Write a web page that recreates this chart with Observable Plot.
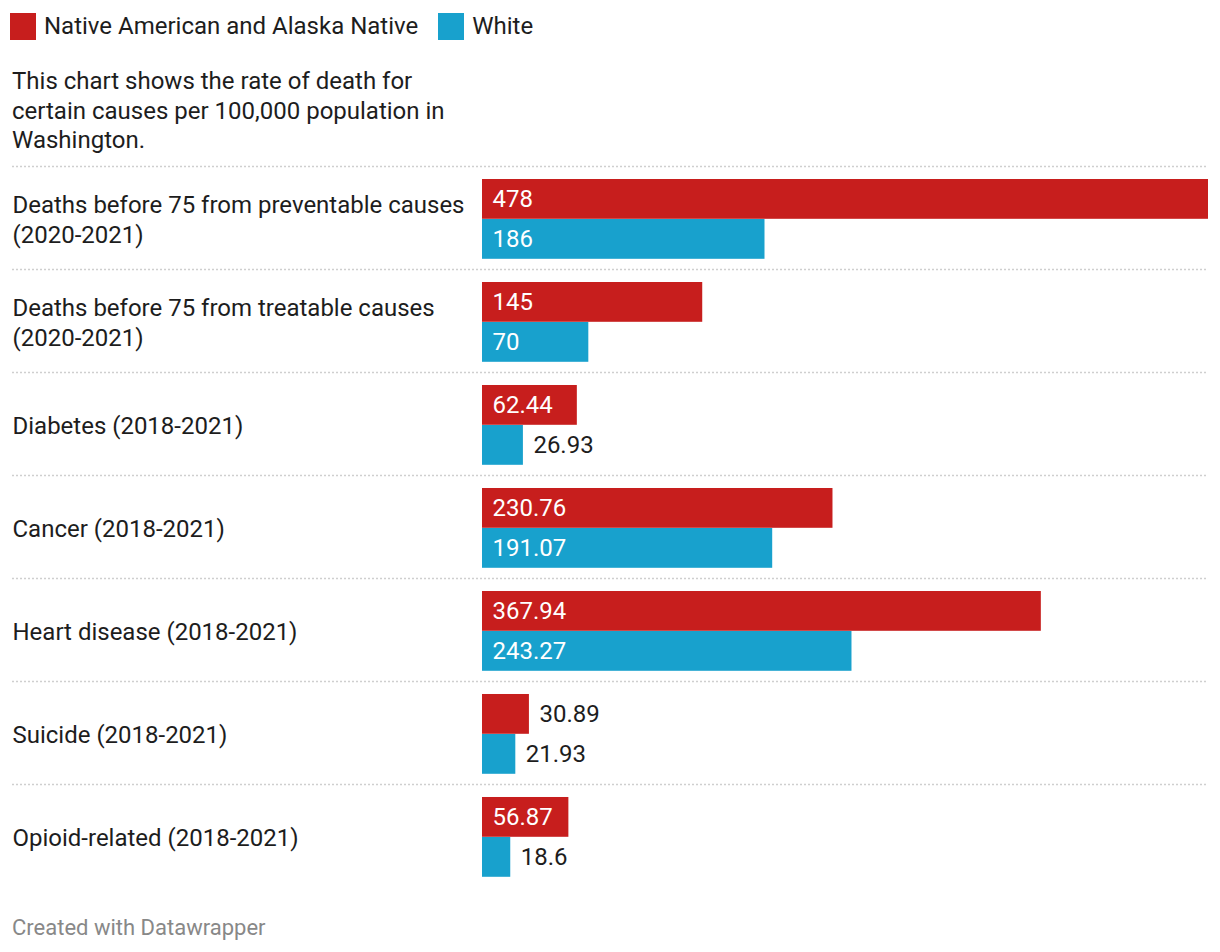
<!DOCTYPE html>
<html>
<head>
<meta charset="utf-8">
<script src="https://cdn.jsdelivr.net/npm/d3@7"></script>
<script src="https://cdn.jsdelivr.net/npm/@observablehq/plot@0.6"></script>
<style>
  html, body { margin: 0; padding: 0; background: #fff; }
  body { width: 1220px; height: 952px; position: relative; font-family: Roboto, "Noto Sans", sans-serif; color: #1d1d1d; overflow: hidden; }
  #legend { position: absolute; left: 10px; top: 13px; display: flex; align-items: center; font-size: 24px; line-height: 27px; }
  #legend .item { display: flex; align-items: center; margin-right: 20px; }
  #legend .sw { width: 26px; height: 27px; margin-right: 8px; }
  #desc { position: absolute; left: 12px; top: 67px; font-size: 24px; line-height: 29.5px; }
  #chart { position: absolute; left: 0; top: 164px; }
  #footer { position: absolute; left: 12px; top: 915px; font-size: 22px; color: #888; }
</style>
</head>
<body>
<div id="legend"></div>
<div id="desc">This chart shows the rate of death for<br>certain causes per 100,000 population in<br>Washington.</div>
<div id="chart"></div>
<div id="footer">Created with Datawrapper</div>
<script>
const seriesNames = ["Native American and Alaska Native", "White"];
const seriesColors = ["#c71e1d", "#18a1cd"];
const categories = [
  "Deaths before 75 from preventable causes (2020-2021)",
  "Deaths before 75 from treatable causes (2020-2021)",
  "Diabetes (2018-2021)",
  "Cancer (2018-2021)",
  "Heart disease (2018-2021)",
  "Suicide (2018-2021)",
  "Opioid-related (2018-2021)"
];
const nativeValues = [478, 145, 62.44, 230.76, 367.94, 30.89, 56.87];
const whiteValues = [186, 70, 26.93, 191.07, 243.27, 21.93, 18.6];

// legend
const legend = document.getElementById("legend");
seriesNames.forEach((n, i) => {
  const it = document.createElement("div");
  it.className = "item";
  it.innerHTML = `<span class="sw" style="background:${seriesColors[i]}"></span><span>${n}</span>`;
  legend.appendChild(it);
});

const nativeRows = categories.map((c, i) => ({category: c, value: nativeValues[i]}));
const whiteRows = categories.map((c, i) => ({category: c, value: whiteValues[i]}));

const rowH = 103.2;
const barH = 40;
const topGap = 13;
const xMax = 478;
const x0 = 482, x1 = 1208;
const pxPer = (x1 - x0) / xMax;
const fits = d => d.value * pxPer > String(d.value).length * 13.5 + 16;
const wrap = s => s.length > 30 ? s.replace(" (", "\n(") : s;

const dyNative = topGap + barH / 2 - rowH / 2;
const dyWhite = topGap + barH + barH / 2 - rowH / 2;

const chart = Plot.plot({
  width: 1220,
  height: 1 + categories.length * rowH + 1,
  marginLeft: 12,
  marginRight: 12,
  marginTop: 1,
  marginBottom: 1,
  style: {fontFamily: "Roboto, 'Noto Sans', sans-serif", fontSize: "24px", color: "#1d1d1d", background: "transparent"},
  x: {domain: [0, xMax], range: [x0, x1], axis: null},
  y: {domain: categories, padding: 0, axis: null},
  marks: [
    Plot.ruleY(categories, {y: d => d, dy: -rowH / 2, stroke: "#cfcfcf", strokeWidth: 1.5, strokeDasharray: "2,2"}),
    Plot.barX(nativeRows, {x: "value", y: "category", fill: seriesColors[0], insetTop: topGap, insetBottom: rowH - topGap - barH}),
    Plot.barX(whiteRows, {x: "value", y: "category", fill: seriesColors[1], insetTop: topGap + barH, insetBottom: rowH - topGap - 2 * barH}),
    Plot.text(categories, {y: d => d, text: wrap, frameAnchor: "left", textAnchor: "start", lineHeight: 1.25, fontSize: 24, fill: "#1d1d1d"}),
    Plot.text(nativeRows.filter(fits), {x: () => 0, y: "category", text: d => String(d.value), dx: 10, dy: dyNative, textAnchor: "start", fill: "white", fontSize: 24}),
    Plot.text(nativeRows.filter(d => !fits(d)), {x: "value", y: "category", text: d => String(d.value), dx: 10, dy: dyNative, textAnchor: "start", fill: "#1d1d1d", fontSize: 24}),
    Plot.text(whiteRows.filter(fits), {x: () => 0, y: "category", text: d => String(d.value), dx: 10, dy: dyWhite, textAnchor: "start", fill: "white", fontSize: 24}),
    Plot.text(whiteRows.filter(d => !fits(d)), {x: "value", y: "category", text: d => String(d.value), dx: 10, dy: dyWhite, textAnchor: "start", fill: "#1d1d1d", fontSize: 24})
  ]
});
document.getElementById("chart").appendChild(chart);
</script>
</body>
</html>
